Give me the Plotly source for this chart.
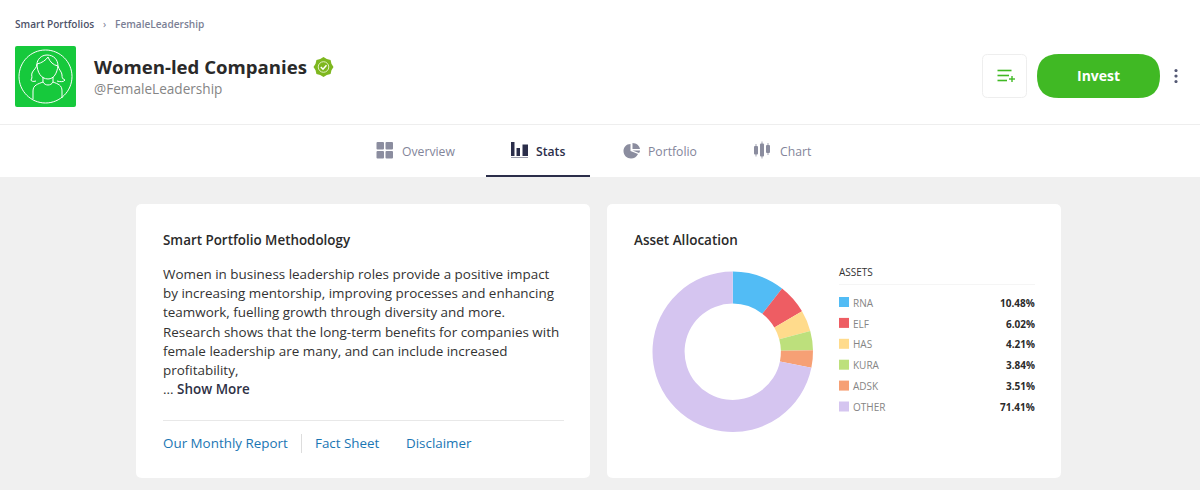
import math
import re
import plotly.graph_objects as go

# asset allocation
assets = ['RNA', 'ELF', 'HAS', 'KURA', 'ADSK', 'OTHER']
weights = [10.48, 6.02, 4.21, 3.84, 3.51, 71.41]
asset_colors = ['#52bcf5', '#ee5d63', '#ffdb8c', '#bde07c', '#f6a075', '#d5c5f0']

method_lines = [
    'Women in business leadership roles provide a positive impact',
    'by increasing mentorship, improving processes and enhancing',
    'teamwork, fuelling growth through diversity and more.',
    'Research shows that the long-term benefits for companies with',
    'female leadership are many, and can include increased',
    'profitability,',
]
tabs = ['Overview', 'Stats', 'Portfolio', 'Chart']
tab_x = [402, 536, 648, 780]
links = ['Our Monthly Report', 'Fact Sheet', 'Disclaimer']
link_x = [163, 315, 406]

W, H = 1200, 490
FONT = 'Open Sans'


# everything around the donut is placed in page pixels
def px(x):
    return x / W


def py(y):
    return 1 - y / H


def path(d):
    # "M x y L x y" in pixels -> same path in paper coordinates
    nums = iter(range(10000))
    def conv(m):
        v = float(m.group(0))
        return f'{px(v):.5f}' if next(nums) % 2 == 0 else f'{py(v):.5f}'
    return re.sub(r'-?\d+\.?\d*', conv, d)


def round_rect(x0, y0, x1, y1, r):
    return (f'M {x0+r} {y0} L {x1-r} {y0} Q {x1} {y0} {x1} {y0+r} L {x1} {y1-r} Q {x1} {y1} {x1-r} {y1} '
            f'L {x0+r} {y1} Q {x0} {y1} {x0} {y1-r} L {x0} {y0+r} Q {x0} {y0} {x0+r} {y0} Z')


shapes = []


def rect(x0, y0, x1, y1, fill, r=0, line=None, lw=1):
    shapes.append(dict(type='path', xref='paper', yref='paper', path=path(round_rect(x0, y0, x1, y1, r) if r else
                       f'M {x0} {y0} L {x1} {y0} L {x1} {y1} L {x0} {y1} Z'),
                       fillcolor=fill, line=dict(color=line or fill, width=lw if line else 0), layer='below'))


def stroke(d, color, lw=1, fill='rgba(0,0,0,0)'):
    shapes.append(dict(type='path', xref='paper', yref='paper', path=path(d), fillcolor=fill,
                       line=dict(color=color, width=lw), layer='below'))


def solid(d, color):
    shapes.append(dict(type='path', xref='paper', yref='paper', path=path(d), fillcolor=color,
                       line=dict(width=0), layer='below'))


def circle_path(cx, cy, r):
    k = 0.5523 * r
    return (f'M {cx} {cy-r} C {cx+k} {cy-r} {cx+r} {cy-k} {cx+r} {cy} C {cx+r} {cy+k} {cx+k} {cy+r} {cx} {cy+r} '
            f'C {cx-k} {cy+r} {cx-r} {cy+k} {cx-r} {cy} C {cx-r} {cy-k} {cx-k} {cy-r} {cx} {cy-r} Z')


annotations = []


def label(x, y, text, size, color, weight=400, anchor='left'):
    annotations.append(dict(x=px(x), y=py(y), xref='paper', yref='paper', text=text, showarrow=False,
                            xanchor=anchor, yanchor='middle', borderpad=0, borderwidth=0,
                            font=dict(family=FONT, size=size, color=color, weight=weight)))


# page background
rect(0, 177, W, H, '#f0f0f0')
rect(0, 124, W, 125, '#eeeeee')
rect(486, 175, 590, 177, '#2b2e4a')
rect(136, 204, 590, 478, '#ffffff', r=6)
rect(607, 204, 1061, 478, '#ffffff', r=6)

# header
label(15, 24, 'Smart Portfolios', 10.1, '#4d5269', 600)
label(102.5, 24, '›', 10.5, '#777b90')
label(115, 24, 'FemaleLeadership', 10.1, '#7b7f95', 600)

rect(15, 46, 76, 107, '#16c93c', r=2)
stroke(circle_path(45.5, 76.5, 26.5), '#ffffff', 1)
# avatar outline
stroke('M 47 55 C 41 55 37 60 37 64 C 37 68 33 70 32 73 C 31 76 33 77 31 80 C 31 81 33 82 36 81', '#ffffff', 1)
stroke('M 47 55 C 54 55 58 60 58 66 C 59 70 62 72 62 75 C 62 77 62 79 65 80 C 64 82 60 82 57 81', '#ffffff', 1)
stroke('M 37 64 C 42 63 46 60 48 57 C 50 62 53 65 58 66', '#ffffff', 1)
stroke('M 37 64 C 37 72 41 79 48 79 C 54 79 57 73 58 66', '#ffffff', 1)
stroke('M 43 77 L 43 82 C 38 84 33 85 33 91 L 33 99 M 53 77 L 53 82 C 58 84 62 85 62 91 L 62 98', '#ffffff', 1)
stroke('M 43 82 C 45 86 51 86 53 82', '#ffffff', 1)

label(94, 67, 'Women-led Companies', 18.6, '#2a2a2a', 700)
label(94, 89, '@FemaleLeadership', 13.6, '#858585')

# verified badge
badge = []
for i in range(16):
    r = 10 if i % 2 == 0 else 8.6
    a = math.pi * i / 8
    badge.append(f'{323.5 + r * math.sin(a):.2f} {67 - r * math.cos(a):.2f}')
solid('M ' + ' L '.join(badge) + ' Z', '#7eb71f')
stroke(circle_path(323.5, 67, 5.3), '#dff0bf', 1)
stroke('M 320.8 67 L 323 69.2 L 326.5 65.2', '#ffffff', 1.5)

# watchlist button and invest
rect(982.5, 54.5, 1026.5, 97.5, '#ffffff', r=5, line='#eeeeee')
for y, x1 in [(70.5, 1011.5), (75.5, 1009), (80.5, 1007)]:
    rect(997.5, y - 0.8, x1, y + 0.8, '#40b924')
rect(1009, 78.3, 1015, 79.7, '#40b924')
rect(1011.3, 76, 1012.7, 82, '#40b924')
rect(1037, 54, 1160, 98, '#40b924', r=22)
label(1098.5, 76, 'Invest', 14, '#ffffff', 700, 'center')
for y in [70.5, 76, 81.5]:
    solid(circle_path(1176, y, 1.6), '#555a75')

# tab icons
grey = '#8b8d9f'
navy = '#2b2e4a'
for x0, y0 in [(376.5, 142), (385.5, 142), (376.5, 151), (385.5, 151)]:
    rect(x0, y0, x0 + 7.5, y0 + 7.5, grey, r=1)
for x0, y0, x1 in [(511, 142, 514.5), (516.5, 148, 520), (522.5, 144.5, 528)]:
    rect(x0, y0, x1, 156, navy)
rect(511, 157, 528, 158, '#9a9caa')
solid('M 630.5 144 C 626 144 623.5 147.5 623.5 151 C 623.5 155.5 627 158.5 631 158.5 C 634 158.5 636.5 157 638 154 L 630.5 151 Z', grey)
solid('M 632.5 143 C 636.5 143 639.5 146 640 149 L 632.5 149 Z', grey)
solid('M 632.5 150.5 L 640 150.5 C 640 151.5 639.5 152.5 639 153 Z', grey)
for cx, y0, y1 in [(756, 146, 154.5), (762, 143.5, 156.5), (768, 145, 153)]:
    rect(cx - 2, y0, cx + 2, y1, grey, r=1)
    rect(cx - 0.4, y0 - 2, cx + 0.4, y1 + 2, grey)

for name, x in zip(tabs, tab_x):
    on = name == 'Stats'
    label(x, 151.7, name, 12.2, navy if on else '#83859a', 600 if on else 500)

# methodology card
label(163, 239.5, 'Smart Portfolio Methodology', 13.4, '#2a2a2a', 600)
for i, line in enumerate(method_lines):
    label(163, 274 + i * 19.2, line, 13.45, '#333333')
label(163, 388.5, '... <span style="color:#2e3145;font-weight:600">Show More</span>', 13.45, '#333333')
rect(163, 420, 564, 421, '#e8e8e8')
rect(301, 434, 302, 453, '#dddddd')
for name, x in zip(links, link_x):
    label(x, 443, name, 13.4, '#1a76b4')

# allocation card
label(634, 239.5, 'Asset Allocation', 13.5, '#2a2a2a', 600)
label(839, 272, 'ASSETS', 10, '#333333')
rect(839, 284, 1035, 285, '#f5f5f5')
for i, (name, w, c) in enumerate(zip(assets, weights, asset_colors)):
    y = 302 + i * 20.9
    rect(839, y - 5, 849, y + 5, c)
    label(853, y + 0.6, name, 10, '#858585')
    label(1035, y + 0.6, f'{w:.2f}%', 10, '#2a2a2a', 700, 'right')

fig = go.Figure(go.Pie(labels=assets, values=weights, hole=0.6, sort=False, direction='clockwise',
                       rotation=0, textinfo='none', showlegend=False,
                       marker=dict(colors=asset_colors, line=dict(width=0)),
                       domain=dict(x=[px(652), px(813.5)], y=[py(432), py(271.5)])))

fig.update_layout(width=W, height=H, margin=dict(l=0, r=0, t=0, b=0), paper_bgcolor='#ffffff',
                  shapes=shapes, annotations=annotations, font=dict(family=FONT))

fig.write_html('out.html', config=dict(displayModeBar=False),
               post_script="document.body.style.margin='0';document.body.style.overflow='hidden';")
